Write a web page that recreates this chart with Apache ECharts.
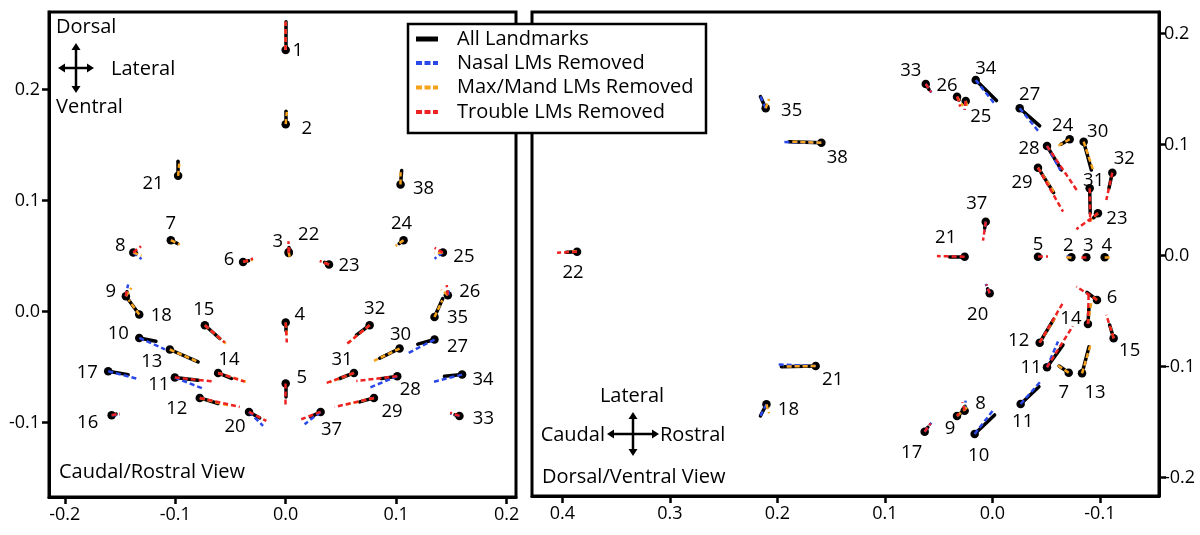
<!DOCTYPE html>
<html><head><meta charset="utf-8">
<script src="https://cdn.jsdelivr.net/npm/echarts@6/dist/echarts.min.js"></script>
<style>html,body{margin:0;padding:0;background:#fff}#c{width:1200px;height:535px}</style>
</head><body><div id="c"></div>
<script>
const FONT = '"Open Sans", "Noto Sans", sans-serif';
const seriesNames = ['All Landmarks', 'Nasal LMs Removed', 'Max/Mand LMs Removed', 'Trouble LMs Removed'];
const seriesColors = ['#000000', '#2a48e8', '#f7a21b', '#ee2222'];

// ---- Left panel: Caudal/Rostral view ----
const leftLabels = ['1','2','21','38','7','8','6','3','22','23','24','25','9','18','10','13','17','11','15','14','12','20','16','4','5','32','30','27','26','35','31','28','34','29','37','33'];
const leftX = [0,0,-0.0974,0.104,-0.104,-0.138,-0.0386,0.0027,0.0027,0.0392,0.1067,0.1423,-0.1447,-0.1326,-0.1326,-0.1049,-0.1607,-0.1004,-0.0732,-0.0612,-0.0778,-0.0332,-0.1576,0,0,0.076,0.1031,0.1347,0.1468,0.1347,0.0618,0.101,0.1597,0.0799,0.0316,0.1573];
const leftY = [0.2354,0.1687,0.1222,0.1144,0.0642,0.0532,0.0447,0.0537,0.0527,0.0423,0.0642,0.0531,0.0138,-0.0027,-0.0238,-0.0342,-0.0538,-0.0595,-0.0123,-0.0553,-0.0778,-0.0904,-0.0934,-0.0099,-0.0649,-0.0123,-0.0333,-0.0252,0.0147,-0.0049,-0.0553,-0.0583,-0.0568,-0.0778,-0.0904,-0.094];
const leftAll = [[0,0.0255],[0,0.0117],[0,0.0132],[0.001,0.0126],[0.006,-0.003],[0.003,0],[0.005,0.001],[0,0.004],[0.001,0.003],[-0.004,0.002],[-0.004,-0.003],[-0.003,0],[0.001,0.004],[-0.0099,0.0135],[0.0151,-0.003],[0.0256,-0.0112],[0.0181,-0.003],[0.0211,-0.0024],[0.0135,-0.012],[0.0121,-0.005],[0.0166,-0.005],[0.0097,-0.0054],[0.004,0.001],[0,-0.0075],[0,-0.0121],[-0.012,-0.009],[-0.018,-0.0088],[-0.0151,-0.0042],[0,0.002],[0.0075,0.0166],[-0.0129,-0.005],[-0.0145,-0.0021],[-0.016,-0.0015],[-0.0129,-0.0036],[-0.009,-0.0045],[-0.004,0.001]];
const leftNasal = [[0,0.0255],null,null,null,null,[0.0075,-0.006],null,null,null,null,null,[-0.0075,-0.0055],[0.002,0.0105],null,[0.0232,-0.0102],null,[0.0257,-0.0066],[0.0256,-0.0099],null,null,null,[0.0127,-0.0126],[0.0075,0.0005],null,null,null,null,[-0.0235,-0.0121],[0,0.007],null,null,[-0.025,-0.0102],[-0.0266,-0.0067],null,[-0.0145,-0.0111],[-0.0084,0.0022]];
const leftMaxMand = [[0,0.0255],[0.001,0.011],[0.001,0.011],[0,0.011],[0.0081,-0.0039],[0.0075,-0.003],[0.009,0.002],[0.001,-0.005],null,[-0.007,0.003],[-0.0072,-0.0051],[-0.0075,-0.0005],[0.005,0.0075],[-0.0095,0.013],null,[0.024,-0.0105],null,null,[0.019,-0.0165],[0.0257,-0.0081],[0.0256,-0.0066],null,null,[0.001,-0.011],null,[-0.0195,-0.016],[-0.0232,-0.0112],null,[-0.006,0.005],[0.007,0.015],[-0.022,-0.0085],null,null,[-0.025,-0.006],null,null];
const leftTrouble = [[0,0.0255],null,null,null,null,[0.007,0.0055],[0.009,0.003],[0,0.0095],[0.001,0.006],[-0.0084,0.0032],null,[-0.0075,0.0042],[0.001,0.007],null,null,null,null,[0.0344,-0.0033],[0.018,-0.0155],[0.024,-0.0078],[0.0362,-0.0081],[0.0157,-0.0081],[0.0075,0.0015],[0.001,-0.018],[0,-0.0211],[-0.0202,-0.0165],null,null,[-0.001,0.009],null,[-0.025,-0.009],[-0.0371,-0.0042],null,[-0.0355,-0.0081],[-0.0175,-0.0066],[-0.0084,0.003]];
const leftLabelOffset = [[12,1],[21,5],[-25,8],[23,4],[0,-16],[-13,-7],[-14,-2],[-11,-10],[20,-18],[20,1],[-2,-16],[21,4],[-15,-4],[22,1],[-21,-4],[-18,12],[-21,1],[-16,7],[-1,-15],[11,-13],[-23,11],[-14,15],[-24,7],[14,-8],[16,-6],[5,-16],[1,-14],[23,7],[22,-3],[23,1],[-12,-13],[13,13],[21,5],[18,14],[11,18],[24,3]];

// ---- Right panel: Dorsal/Ventral view ----
const rightLabels = ['35','38','22','21','18','33','26','25','34','27','24','30','28','29','31','23','32','37','21','5','2','3','4','20','6','14','12','15','11','7','13','11','8','9','17','10'];
const rightX = [0.2109,0.1591,0.3864,0.1644,0.2102,0.062,0.0329,0.0248,0.0155,-0.0254,-0.0719,-0.0849,-0.0508,-0.0424,-0.0905,-0.0982,-0.1116,0.0062,0.0258,-0.0424,-0.0735,-0.0874,-0.1045,0.0025,-0.0973,-0.0889,-0.044,-0.1128,-0.0508,-0.071,-0.0834,-0.0263,0.0258,0.0329,0.063,0.0165];
const rightY = [0.1328,0.1018,0.0036,-0.0994,-0.1339,0.1547,0.1432,0.1394,0.1583,0.1328,0.1049,0.1027,0.0988,0.0793,0.0607,0.0382,0.0748,0.0306,-0.0009,-0.0009,-0.0015,-0.0015,-0.0015,-0.0339,-0.0399,-0.0615,-0.0784,-0.0744,-0.1005,-0.1054,-0.106,-0.1336,-0.1396,-0.1444,-0.1586,-0.1606];
const rightAll = [[0.0049,0.0105],[0.0301,0.0009],[0.0099,-0.0005],[0.0319,-0.0006],[0.0056,-0.0105],[-0.003,-0.005],[-0.002,-0.003],[0,-0.003],[-0.0193,-0.0186],[-0.0186,-0.0159],[0.008,-0.0045],[-0.0072,-0.0255],[-0.0134,-0.0216],[-0.0146,-0.0225],[-0.0005,-0.0225],[0.004,-0.004],[0.0032,-0.0141],[0.001,-0.006],[0.014,0],[-0.002,0],[0.002,0],[0.002,0],[-0.002,0],[0.002,0.004],[0.0093,0.0069],[-0.0009,0.0141],[-0.013,0.0211],[0.0037,0.012],[-0.0149,0.0201],[0.009,0.006],[-0.0065,0.024],[-0.017,0.0156],[0,0.004],[-0.004,0.003],[-0.003,0.004],[-0.0186,0.0171]];
const rightNasal = [[0.0049,0.0105],[0.0357,0.0005],null,[0.0372,0.0015],[0.0056,-0.0105],[-0.0053,-0.0078],null,[0.001,-0.008],[-0.0177,-0.0216],[-0.017,-0.0202],null,null,[-0.0125,-0.022],null,null,null,null,[0.001,-0.009],null,null,[0.0053,0.001],null,null,[0.0037,0.0084],null,null,null,null,[-0.0102,0.0231],null,null,[-0.0183,0.0201],[-0.0009,0.009],null,[-0.0062,0.0081],[-0.0167,0.0207]];
const rightMaxMand = [[-0.0031,0.0084],[0.028,0.0009],[0.008,0],[0.03,-0.0005],[-0.0024,-0.0081],null,[-0.0056,-0.0084],[-0.002,-0.007],null,null,[0.012,-0.0067],[-0.0093,-0.027],null,[-0.0156,-0.0231],null,[0.0084,-0.0076],null,null,null,null,[0.0053,0],null,[-0.0062,0],null,[0.004,0.003],[-0.003,0.019],[-0.016,0.025],[0.003,0.01],null,[0.0121,0.0078],[-0.0078,0.0255],null,[0.001,0.006],[-0.0102,0.0084],null,null];
const rightTrouble = [null,null,[0.0186,-0.001],null,null,[-0.005,-0.0075],[-0.003,-0.009],[0.001,-0.0081],null,null,null,null,[-0.0282,-0.0405],[-0.0233,-0.0396],[-0.0005,-0.0301],[0.0201,-0.0144],[0.0056,-0.0246],[0.0025,-0.0171],[0.0258,0.0005],[-0.0093,0],null,[0.0062,0],null,[0.003,0.008],[0.0192,0.012],[-0.0006,0.0264],[-0.0217,0.036],[0.0068,0.021],[-0.024,0.037],null,null,null,[0.0021,0.0076],[-0.002,0.002],[-0.0055,0.0075],null];
const rightLabelOffset = [[26,2],[16,15],[-4,21],[17,14],[22,5],[-15,-13],[-10,-11],[15,16],[10,-11],[10,-14],[-7,-13],[14,-10],[-18,3],[-16,15],[4,-8],[19,5],[12,-14],[-9,-18],[-19,-19],[0,-12],[-3,-12],[2,-12],[2,-12],[-12,21],[15,-2],[-17,-5],[-21,-2],[16,12],[-16,1],[-5,20],[13,19],[2,18],[16,-7],[-7,13],[-13,21],[4,22]];

// Tick labels
const leftXTicks = [-0.2, -0.1, 0.0, 0.1, 0.2];
const leftYTicks = [-0.1, 0.0, 0.1, 0.2];
const rightXTicks = [0.4, 0.3, 0.2, 0.1, 0.0, -0.1];
const rightYTicks = [-0.2, -0.1, 0.0, 0.1, 0.2];

const chart = echarts.init(document.getElementById('c'), null, {renderer: 'canvas'});

function fmt(v) { return (Math.abs(v) < 1e-9 ? 0 : v).toFixed(1); }

function axis(gridIndex, pos, min, max, ticks, inverse, margin) {
  return {
    type: 'value', gridIndex: gridIndex, position: pos, min: min, max: max, inverse: !!inverse,
    axisLine: {show: true, onZero: false, lineStyle: {color: '#000', width: 3}},
    axisTick: {show: true, inside: false, length: 7, customValues: ticks, lineStyle: {color: '#000', width: 2.5}},
    axisLabel: {show: true, customValues: ticks, formatter: fmt, color: '#000', fontSize: 18, fontFamily: FONT, margin: margin},
    splitLine: {show: false}
  };
}

function panelSeries(ai, labels, xs, ys, vecs, offsets) {
  const out = [];
  out.push({
    type: 'scatter', xAxisIndex: ai, yAxisIndex: ai, symbol: 'circle', symbolSize: 8.5, z: 2,
    itemStyle: {color: '#000', opacity: 1}, silent: true,
    emphasis: {disabled: true},
    label: {show: true, position: 'inside', formatter: '{b}', color: '#000', opacity: 1, fontSize: 18.5, fontFamily: FONT, align: 'center', verticalAlign: 'middle'},
    data: labels.map((l, i) => ({name: l, value: [xs[i], ys[i]], label: {offset: offsets[i]}}))
  });
  vecs.forEach((vec, k) => {
    const data = [];
    vec.forEach((d, i) => { if (d) data.push({coords: [[xs[i], ys[i]], [xs[i] + d[0], ys[i] + d[1]]]}); });
    out.push({
      type: 'lines', name: seriesNames[k], coordinateSystem: 'cartesian2d', xAxisIndex: ai, yAxisIndex: ai,
      polyline: false, silent: true, z: 3 + k,
      lineStyle: k === 0 ? {color: seriesColors[k], width: 3.5, type: 'solid', cap: 'round', opacity: 1}
                         : {color: seriesColors[k], width: 2.5, type: [5, 3], cap: 'butt', opacity: 1},
      data: data
    });
  });
  return out;
}

function arrowCross(cx, cy, halfW, halfH) {
  const h = 7, w = 4.5, col = '#000';
  return [
    {type: 'line', shape: {x1: cx - halfW + h, y1: cy, x2: cx + halfW - h, y2: cy}, style: {stroke: col, lineWidth: 2.5}},
    {type: 'line', shape: {x1: cx, y1: cy - halfH + h, x2: cx, y2: cy + halfH - h}, style: {stroke: col, lineWidth: 2.5}},
    {type: 'polygon', shape: {points: [[cx + halfW, cy], [cx + halfW - h, cy - w], [cx + halfW - h, cy + w]]}, style: {fill: col}},
    {type: 'polygon', shape: {points: [[cx - halfW, cy], [cx - halfW + h, cy - w], [cx - halfW + h, cy + w]]}, style: {fill: col}},
    {type: 'polygon', shape: {points: [[cx, cy - halfH], [cx - w, cy - halfH + h], [cx + w, cy - halfH + h]]}, style: {fill: col}},
    {type: 'polygon', shape: {points: [[cx, cy + halfH], [cx - w, cy + halfH - h], [cx + w, cy + halfH - h]]}, style: {fill: col}}
  ];
}

function txt(x, y, s, align) {
  return {type: 'text', x: x, y: y, style: {text: s, fill: '#000', fontSize: 20, fontFamily: FONT, align: align || 'left', verticalAlign: 'middle'}};
}

const legendRows = [39, 63, 87.5, 112];
const legendEls = [{type: 'rect', shape: {x: 408, y: 24, width: 298, height: 109}, style: {fill: '#fff', stroke: '#000', lineWidth: 2.5}, z: 100}];
seriesNames.forEach((n, k) => {
  legendEls.push({type: 'line', z: 101, shape: {x1: 416, y1: legendRows[k], x2: 438, y2: legendRows[k]},
    style: {stroke: seriesColors[k], lineWidth: k === 0 ? 5 : 4, lineDash: k === 0 ? null : [6, 2.5]}});
  legendEls.push({type: 'text', z: 101, x: 457, y: legendRows[k], style: {text: n, fill: '#000', fontSize: 20, fontFamily: FONT, verticalAlign: 'middle'}});
});

const option = {
  animation: false,
  backgroundColor: '#fff',
  grid: [
    {left: 49, top: 12, width: 467, height: 485, show: true, borderColor: '#000', borderWidth: 3, backgroundColor: 'transparent'},
    {left: 532, top: 12, width: 627, height: 484, show: true, borderColor: '#000', borderWidth: 3, backgroundColor: 'transparent'}
  ],
  xAxis: [
    axis(0, 'bottom', -0.2143, 0.2085, leftXTicks, false, 9),
    axis(1, 'bottom', -0.155, 0.4283, rightXTicks, true, 9)
  ],
  yAxis: [
    axis(0, 'left', -0.167, 0.2697, leftYTicks, false, 9),
    axis(1, 'right', -0.2165, 0.2195, rightYTicks, false, 5)
  ],
  series: [].concat(
    panelSeries(0, leftLabels, leftX, leftY, [leftAll, leftNasal, leftMaxMand, leftTrouble], leftLabelOffset),
    panelSeries(1, rightLabels, rightX, rightY, [rightAll, rightNasal, rightMaxMand, rightTrouble], rightLabelOffset)
  ),
  graphic: [].concat(
    [txt(56, 27, 'Dorsal'), txt(111, 69, 'Lateral'), txt(56, 107, 'Ventral'), txt(59, 472, 'Caudal/Rostral View')],
    arrowCross(76, 68, 18, 25),
    [txt(632, 396, 'Lateral', 'center'), txt(605, 435, 'Caudal', 'right'), txt(660, 435, 'Rostral'), txt(542, 477, 'Dorsal/Ventral View')],
    arrowCross(633, 434, 26, 22),
    legendEls
  )
};
chart.setOption(option);
</script>
</body></html>
